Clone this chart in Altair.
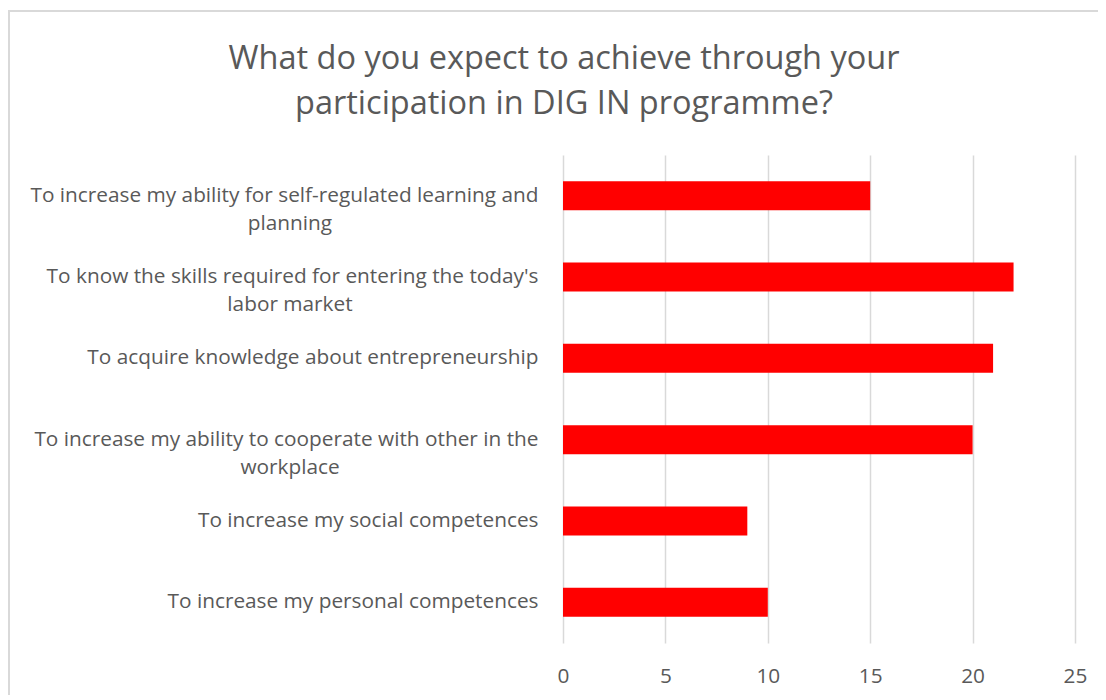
import altair as alt
import pandas as pd

line1 = [
    "To increase my ability for self-regulated learning and",
    "To know the skills required for entering the today's",
    "To acquire knowledge about entrepreneurship",
    "To increase my ability to cooperate with other in the",
    "To increase my social competences",
    "To increase my personal competences",
]
line2 = ["planning", "labor market", "", "workplace", "", ""]
values = [15, 22, 21, 20, 9, 10]
x_ticks = [0, 5, 10, 15, 20, 25]
title_lines = ["What do you expect to achieve through your", "participation in DIG IN programme?"]

cats = [a + ("|" + b if b else "") for a, b in zip(line1, line2)]
df = pd.DataFrame({
    "cat": cats,
    "value": values,
    "line2t": [("\n" + b) if b else "" for b in line2],
})

FONT = "Open Sans"
GREY = "#595959"
GRID = "#d9d9d9"
LFS = 20.8

y_enc = alt.Y(
    "cat:N",
    sort=cats,
    scale=alt.Scale(paddingInner=0.643, paddingOuter=0.3215),
    axis=alt.Axis(
        title=None,
        domain=False,
        ticks=False,
        grid=False,
        labelAlign="right",
        labelBaseline="middle",
        labelPadding=25,
        labelFont=FONT,
        labelFontSize=LFS,
        labelColor=GREY,
        labelLineHeight=28,
        labelLimit=600,
        labelExpr="indexof(datum.value, '|') >= 0 ? [split(datum.value, '|')[0], ''] : datum.value",
    ),
)

bars = alt.Chart(df).mark_bar(color="#FF0000").encode(
    x=alt.X(
        "value:Q",
        scale=alt.Scale(domain=[0, 25], nice=False),
        axis=alt.Axis(
            title=None,
            values=x_ticks,
            grid=True,
            gridColor=GRID,
            gridWidth=1.5,
            domain=False,
            ticks=False,
            labelFlush=False,
            labelFont=FONT,
            labelFontSize=LFS,
            labelColor=GREY,
            labelPadding=23,
        ),
    ),
    y=y_enc,
)

second_lines = alt.Chart(df).mark_text(
    align="center", baseline="middle", lineBreak="\n", lineHeight=28,
    font=FONT, fontSize=LFS, color=GREY,
).encode(
    y=alt.Y("cat:N", sort=cats),
    x=alt.value(-273),
    text="line2t:N",
)

border = alt.Chart(pd.DataFrame({"a": [0]})).mark_rect(
    fill=None, stroke=GRID, strokeWidth=2
).encode(
    x=alt.value(-554), x2=alt.value(700),
    y=alt.value(-144), y2=alt.value(700),
)

title = alt.Chart(pd.DataFrame({"t": ["\n".join(title_lines)]})).mark_text(
    align="center", baseline="middle", lineBreak="\n", lineHeight=45,
    font=FONT, fontSize=32.5, color=GREY,
).encode(
    x=alt.value(1),
    y=alt.value(-96),
    text="t:N",
)

chart = alt.layer(border, title, bars, second_lines).properties(
    width=512,
    height=488,
    padding={"left": 555, "top": 147, "right": 23, "bottom": 52},
    autosize=alt.AutoSizeParams(type="none"),
).configure_view(stroke=None)

chart.save("out.html", embed_options={"renderer": "svg", "actions": False})
